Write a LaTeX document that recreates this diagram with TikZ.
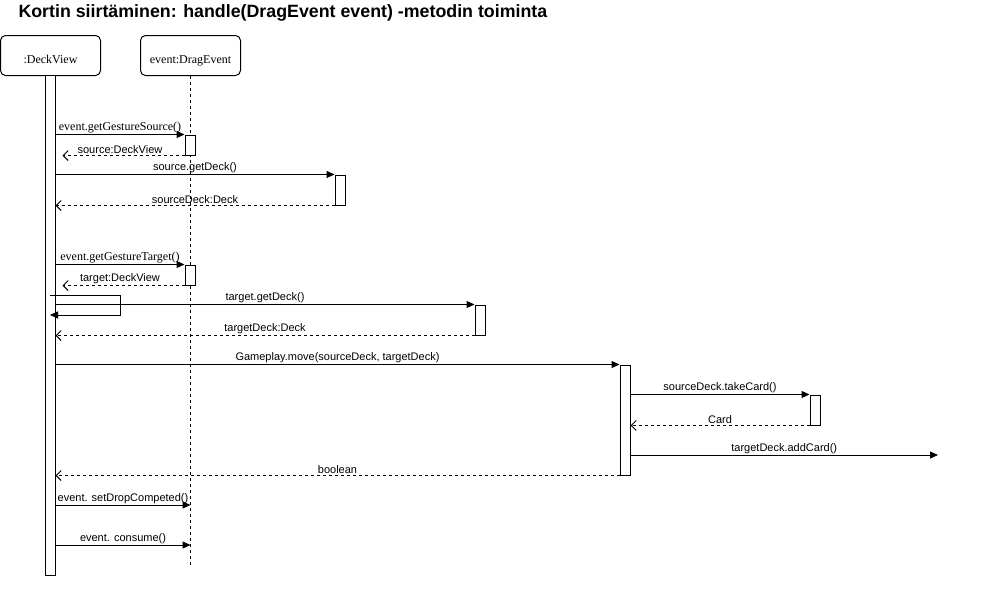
\documentclass[tikz,border=0pt]{standalone}
\usepackage{fontspec}
\setmainfont{Liberation Serif}
\setsansfont{Liberation Sans}
\usetikzlibrary{arrows.meta,positioning,calc}

\tikzset{
  obj/.style={draw, rounded corners=5pt, minimum width=100pt, minimum height=40pt,
    inner sep=0pt, text height=15pt, text depth=0pt, font=\fontsize{12}{14}\selectfont},
  bar/.style={draw, fill=white, minimum width=10pt, inner sep=0pt},
  call/.style={-{Triangle[length=8pt,width=7pt]}},
  ret/.style={dash pattern=on 3pt off 3pt, -{Straight Barb[length=5pt,width=10pt]}},
  msg/.style={above, inner sep=1pt, font=\fontsize{11}{13}\sffamily},
  smsg/.style={above, inner sep=0.5pt, font=\fontsize{12}{14}\selectfont},
}

\begin{document}
\begin{tikzpicture}[x=1pt, y=-1pt, line width=1pt]
\useasboundingbox (0,0) rectangle (991,616);

\node[anchor=west, inner sep=0pt, font=\fontsize{17.8}{20}\sffamily\bfseries] (title) at (18,13)
  {Kortin siirtäminen: handle(DragEvent event) -metodin toiminta};

% objects
\node[obj] (deck) at (50.5,55.5) {:DeckView};
\node[obj] (drag) at (190.5,55.5) {event:DragEvent};
\coordinate (dragend) at (190.5,565);
\draw[dash pattern=on 3pt off 3pt, line width=0.8pt] (drag.south) -- (dragend);
\node[bar, minimum height=500pt] (deckbar) at (50,325) {};

% activations
\node[bar, minimum height=20pt] (a1) at (190,145) {};
\node[bar, minimum height=30pt] (a2) at (340,190) {};
\node[bar, minimum height=20pt] (a3) at (190,275) {};
\node[bar, minimum height=30pt] (a4) at (480,320) {};
\node[bar, minimum height=110pt] (a5) at (625,420) {};
\node[bar, minimum height=30pt] (a6) at (815,410) {};

% source
\draw[call] (deckbar.east |- a1.north) -- (a1.north west)
  node[smsg, midway] {event.getGestureSource()};
\draw[ret, shorten >=7pt] (a1.south west) -- (deckbar.east |- a1.south)
  node[msg, midway] {source:DeckView};
\draw[call] (deckbar.east |- a2.north) -- (a2.north west)
  node[msg, midway] {source.getDeck()};
\draw[ret] (a2.south west) -- (deckbar.east |- a2.south)
  node[msg, midway] {sourceDeck:Deck};

% target
\draw[call] (deckbar.east |- a3.north) -- (a3.north west)
  node[smsg, midway] {event.getGestureTarget()};
\draw[ret, shorten >=7pt] (a3.south west) -- (deckbar.east |- a3.south)
  node[msg, midway] {target:DeckView};
\coordinate (loop) at (120,295);
\draw[call] (deckbar.center |- loop) -- (loop) -- ++(0,20) -- ($(deckbar.center |- loop)+(0,20)$);
\draw[call] (deckbar.east |- a4.north) -- (a4.north west)
  node[msg, midway] {target.getDeck()};
\draw[ret] (a4.south west) -- (deckbar.east |- a4.south)
  node[msg, midway] {targetDeck:Deck};

% move
\draw[call] (deckbar.east |- a5.north) -- (a5.north west)
  node[msg, midway] {Gameplay.move(sourceDeck, targetDeck)};
\draw[call] (a5.east |- a6.north) -- (a6.north west)
  node[msg, midway] {sourceDeck.takeCard()};
\draw[ret] (a6.south west) -- (a5.east |- a6.south)
  node[msg, midway] {Card};
\coordinate (addend) at (938,455);
\draw[call] (a5.east |- addend) -- (addend)
  node[msg, midway] {targetDeck.addCard()};
\draw[ret] (a5.south west) -- (deckbar.east |- a5.south)
  node[msg, midway] {boolean};

% finish
\draw[call] (deckbar.east |- 0,505) -- (dragend |- 0,505)
  node[msg, midway] {event. setDropCompeted()};
\draw[call] (deckbar.east |- 0,545) -- (dragend |- 0,545)
  node[msg, midway] {event. consume()};
\end{tikzpicture}
\end{document}
